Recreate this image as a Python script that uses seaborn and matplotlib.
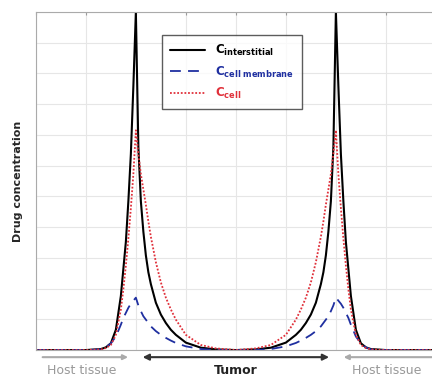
import numpy as np
import pandas as pd
import matplotlib.pyplot as plt
import seaborn as sns

# position along the tissue (grid units)
position = [0.0, 1.0, 1.3, 1.4, 1.5, 1.6, 1.7, 1.75, 1.8, 1.85, 1.9, 1.95, 2.0, 2.05, 2.1, 2.15, 2.2, 2.25, 2.3, 2.4,
            2.5, 2.6, 2.7, 2.8, 3.0, 3.3, 3.6, 4.0,
            4.4, 4.7, 5.0, 5.2, 5.3, 5.4, 5.5, 5.6, 5.7, 5.75, 5.8, 5.85, 5.9, 5.95, 6.0, 6.05, 6.1, 6.15, 6.2,
            6.25, 6.3, 6.4, 6.5, 6.6, 6.7, 7.0, 8.0]

c_interstitial = [0, 0, 0.003, 0.008, 0.02, 0.06, 0.16, 0.24, 0.32, 0.44, 0.58, 0.78, 1.0, 0.60, 0.44, 0.35, 0.28, 0.23,
                  0.195, 0.14, 0.105, 0.08, 0.06, 0.045, 0.022, 0.007, 0.002, 0.0,
                  0.002, 0.007, 0.022, 0.045, 0.06, 0.08, 0.105, 0.14, 0.195, 0.23, 0.28, 0.35, 0.44, 0.60, 1.0,
                  0.78, 0.58, 0.44, 0.32, 0.24, 0.16, 0.06, 0.02, 0.008, 0.003, 0, 0]

c_membrane = [0, 0, 0.002, 0.008, 0.02, 0.04, 0.075, 0.095, 0.11, 0.125, 0.137, 0.146, 0.155, 0.132, 0.115, 0.10, 0.09,
              0.08, 0.07, 0.056, 0.045, 0.036, 0.028, 0.021, 0.011, 0.003, 0.0, 0.0,
              0.0, 0.003, 0.011, 0.021, 0.028, 0.036, 0.045, 0.056, 0.07, 0.08, 0.09, 0.10, 0.115, 0.132, 0.155,
              0.146, 0.137, 0.125, 0.11, 0.095, 0.075, 0.04, 0.02, 0.008, 0.002, 0, 0]

c_cell = [0, 0, 0.002, 0.006, 0.015, 0.045, 0.12, 0.18, 0.25, 0.33, 0.42, 0.52, 0.65, 0.58, 0.52, 0.475, 0.43, 0.38,
          0.335, 0.26, 0.2, 0.155, 0.12, 0.09, 0.045, 0.015, 0.005, 0.0,
          0.005, 0.015, 0.045, 0.09, 0.12, 0.155, 0.2, 0.26, 0.335, 0.38, 0.43, 0.475, 0.52, 0.58, 0.65,
          0.52, 0.42, 0.33, 0.25, 0.18, 0.12, 0.045, 0.015, 0.006, 0.002, 0, 0]

labels = [r'$\mathbf{C_{interstitial}}$', r'$\mathbf{C_{cell\ membrane}}$', r'$\mathbf{C_{cell}}$']
colors = ['black', '#1f2fa0', '#e0303a']
styles = ['-', (0, (6, 4)), (0, (1, 1))]

df = pd.DataFrame({'x': position, 'interstitial': c_interstitial,
                   'membrane': c_membrane, 'cell': c_cell})

sns.set_style('white')
fig = plt.figure(figsize=(4.32, 3.83), dpi=100)
ax = fig.add_axes([0.083, 0.086, 0.926, 0.883])

for col, lab, c, ls, lw in zip(['interstitial', 'membrane', 'cell'], labels, colors, styles, [1.5, 1.3, 1.3]):
    sns.lineplot(data=df, x='x', y=col, ax=ax, color=c, label=lab, linewidth=lw)
    ax.lines[-1].set_linestyle(ls)

ax.set_xlim(0, 8)
ax.set_ylim(0, 1.0)
ax.set_xticks(np.arange(0, 9, 1))
ax.set_yticks(np.linspace(0, 1, 12))
ax.set_xticklabels([])
ax.set_yticklabels([])
ax.tick_params(direction='in', length=2, color='#999999', top=True, right=True)
ax.grid(True, color='#e6e6e6', linewidth=0.8)
for s in ax.spines.values():
    s.set_color('#aaaaaa')
ax.set_xlabel('')
ax.set_ylabel('Drug concentration', fontsize=8, fontweight='bold', labelpad=6)

leg = ax.legend(loc='upper left', bbox_to_anchor=(0.30, 0.95), fontsize=8.5,
                frameon=True, fancybox=False, edgecolor='#333333', handlelength=3.0,
                borderpad=0.7, labelspacing=0.55)
leg.get_frame().set_linewidth(1.0)
for t, c in zip(leg.get_texts(), colors):
    t.set_color(c)

# tissue region arrows under the axis
tr = ax.get_xaxis_transform()
ax.annotate('', xy=(1.9, -0.021), xytext=(0.08, -0.021), xycoords=tr, annotation_clip=False,
            arrowprops=dict(arrowstyle='-|>', color='#aaaaaa', lw=1.5, mutation_scale=7))
ax.annotate('', xy=(5.92, -0.021), xytext=(2.08, -0.021), xycoords=tr, annotation_clip=False,
            arrowprops=dict(arrowstyle='<|-|>', color='#333333', lw=1.5, mutation_scale=9))
ax.annotate('', xy=(6.1, -0.021), xytext=(8.2, -0.021), xycoords=tr, annotation_clip=False,
            arrowprops=dict(arrowstyle='-|>', color='#aaaaaa', lw=1.5, mutation_scale=7))
ax.text(0.92, -0.06, 'Host tissue', transform=tr, ha='center', va='center', fontsize=9, color='#999999')
ax.text(4.0, -0.06, 'Tumor', transform=tr, ha='center', va='center', fontsize=9, fontweight='bold', color='#222222')
ax.text(6.32, -0.06, 'Host tissue', transform=tr, ha='left', va='center', fontsize=9, color='#999999')

fig.savefig('out.png', dpi=100)
